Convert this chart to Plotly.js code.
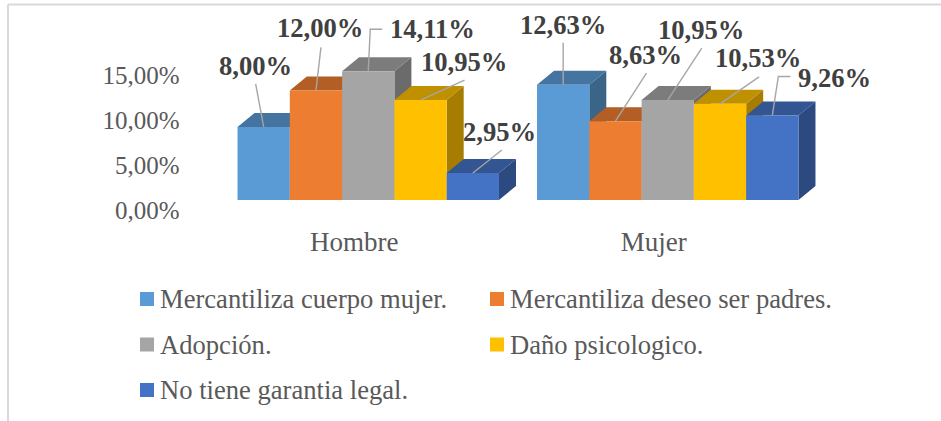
<!DOCTYPE html>
<html><head><meta charset="utf-8">
<script src="https://cdn.plot.ly/plotly-3.0.1.min.js"></script>
<style>html,body{margin:0;padding:0;background:#fff}</style></head>
<body><div id="chart" style="width:941px;height:421px"></div>
<script>
const categories = ["Hombre", "Mujer"];
const seriesNames = ["Mercantiliza cuerpo mujer.", "Mercantiliza deseo ser padres.", "Adopción.", "Daño psicologico.", "No tiene garantia legal."];
const mercantilizaCuerpo = [8.00, 12.63];
const mercantilizaDeseo = [12.00, 8.63];
const adopcion = [14.11, 10.95];
const danoPsicologico = [10.95, 10.53];
const noGarantia = [2.95, 9.26];
const allSeries = [mercantilizaCuerpo, mercantilizaDeseo, adopcion, danoPsicologico, noGarantia];
const frontColors = ["#5B9BD5", "#ED7D31", "#A5A5A5", "#FFC000", "#4472C4"];
const topColors = ["#44749F", "#B25E25", "#7C7C7C", "#BF9000", "#335592"];
const sideColors = ["#3B6588", "#9A5120", "#6B6B6B", "#A67D00", "#2C4A80"];
const yTicks = [0, 5, 10, 15];
const yTickLabels = ["0,00%", "5,00%", "10,00%", "15,00%"];

// layout constants (pixels)
const W = 941, H = 421;
const plotL = 218.5, plotR = 817.5, baseY = 200, plotT = 20;
const catPx = (plotR - plotL) / 2, valPx = 9.13;
const depthX = 17 / catPx, depthY = 14 / valPx;
const bargap = 0.127, barW = (1 - bargap) / 5;
const gridColor = "#A6A6A6", labelColor = "#404040", axisColor = "#595959";
const serif = "'Liberation Serif','Times New Roman',serif";

// label centres relative to the top-centre of the bar: [series][category] = [px right, px up]
const labelOffsets = [
  [[-8, 61], [0, 60]],
  [[4, 62], [30, 66]],
  [[64, 42], [33, 70]],
  [[43, 38], [38, 46]],
  [[27, 41], [62, 37]]
];
// leader start relative to the top-centre of the bar; elbow points come first when present
const leaderOffsets = [
  [[[-8, 43]], [[0, 42]]],
  [[[5, 43]], [[31, 48]]],
  [[[14, 42], [2, 42]], [[34, 52]]],
  [[[44, 20]], [[39, 27]]],
  [[[29, 23]], [[18, 39], [6, 39]]]
];

const data = [];
const annotations = [];
const centre = (c, s) => c + (s - 2) * barW;

allSeries.forEach((vals, s) => {
  const sideX = [], sideY = [], topX = [], topY = [];
  vals.forEach((v, c) => {
    const l = centre(c, s) - barW / 2, r = centre(c, s) + barW / 2;
    sideX.push(r, r + depthX, r + depthX, r, r, null);
    sideY.push(0, depthY, v + depthY, v, 0, null);
    topX.push(l, l + depthX, r + depthX, r, l, null);
    topY.push(v, v + depthY, v + depthY, v, v, null);
  });
  data.push({type: "scatter", mode: "lines", x: sideX, y: sideY, fill: "toself", fillcolor: sideColors[s],
    line: {width: 0, color: sideColors[s]}, hoverinfo: "skip", showlegend: false, zorder: s * 2});
  data.push({type: "scatter", mode: "lines", x: topX, y: topY, fill: "toself", fillcolor: topColors[s],
    line: {width: 0, color: topColors[s]}, hoverinfo: "skip", showlegend: false, zorder: s * 2});
  data.push({type: "bar", name: seriesNames[s], x: [0, 1], y: vals, marker: {color: frontColors[s], line: {width: 0}},
    showlegend: false, zorder: s * 2 + 1});
  vals.forEach((v, c) => {
    const cx = centre(c, s);
    const pts = leaderOffsets[s][c];
    data.push({type: "scatter", mode: "lines",
      x: pts.map(p => cx + p[0] / catPx).concat([cx]),
      y: pts.map(p => v + p[1] / valPx).concat([v]),
      line: {color: gridColor, width: 1.4}, hoverinfo: "skip", showlegend: false, zorder: 20});
    const off = labelOffsets[s][c];
    annotations.push({xref: "x", yref: "y", x: cx, y: v, xshift: off[0], yshift: off[1],
      text: "<b>" + v.toFixed(2).replace(".", ",") + "%</b>", showarrow: false,
      xanchor: "center", yanchor: "middle", font: {family: serif, size: 26.6, color: labelColor}});
  });
});

// carrier for the shifted tick-label axes
data.push({type: "scatter", mode: "markers", x: [0, 1], y: [0, 15], xaxis: "x2", yaxis: "y2",
  marker: {opacity: 0}, hoverinfo: "skip", showlegend: false});

// legend, laid out as in the reference
const legendCols = [140, 490], legendRows = [299, 344.5, 390];
const shapes = [
  {type: "line", xref: "paper", yref: "paper", x0: 8 / W, x1: 8 / W, y0: 0, y1: 1 - 4.5 / H, line: {color: "#D9D9D9", width: 2}},
  {type: "line", xref: "paper", yref: "paper", x0: 8 / W, x1: 1, y0: 1 - 4.5 / H, y1: 1 - 4.5 / H, line: {color: "#D9D9D9", width: 2}}
];
seriesNames.forEach((name, i) => {
  const lx = legendCols[i % 2], ly = legendRows[Math.floor(i / 2)];
  shapes.push({type: "rect", xref: "paper", yref: "paper", x0: lx / W, x1: (lx + 14) / W,
    y0: 1 - (ly + 7) / H, y1: 1 - (ly - 7) / H, fillcolor: frontColors[i], line: {width: 0}});
  annotations.push({xref: "paper", yref: "paper", x: (lx + 19) / W, y: 1 - ly / H, text: name, showarrow: false,
    xanchor: "left", yanchor: "middle", borderpad: 0, font: {family: serif, size: 26.6, color: axisColor}});
});

const layout = {
  width: W, height: H, margin: {l: 0, r: 0, t: 0, b: 0, pad: 0},
  paper_bgcolor: "#fff", plot_bgcolor: "rgba(0,0,0,0)", showlegend: false,
  barmode: "group", bargap: bargap, bargroupgap: 0,
  hovermode: false,
  xaxis: {domain: [plotL / W, plotR / W], range: [-0.5, 1.5], visible: false, fixedrange: true},
  yaxis: {domain: [1 - baseY / H, 1 - plotT / H], range: [0, (baseY - plotT) / valPx], visible: false, fixedrange: true},
  xaxis2: {domain: [(plotL - 14) / W, (plotR - 14) / W], range: [-0.5, 1.5], anchor: "y2",
    tickmode: "array", tickvals: [0, 1], ticktext: categories, ticks: "", showgrid: false, zeroline: false, showline: false,
    ticklabelstandoff: 13, tickfont: {family: serif, size: 27, color: axisColor}, fixedrange: true},
  yaxis2: {domain: [1 - 210 / H, 1 - 30 / H], range: [0, 20], anchor: "x2",
    tickmode: "array", tickvals: yTicks, ticktext: yTickLabels, ticks: "", showgrid: false, zeroline: false, showline: false,
    ticklabelstandoff: 24, tickfont: {family: serif, size: 25, color: axisColor}, fixedrange: true},
  annotations: annotations, shapes: shapes
};
Plotly.newPlot("chart", data, layout, {displayModeBar: false, responsive: false});
</script></body></html>
